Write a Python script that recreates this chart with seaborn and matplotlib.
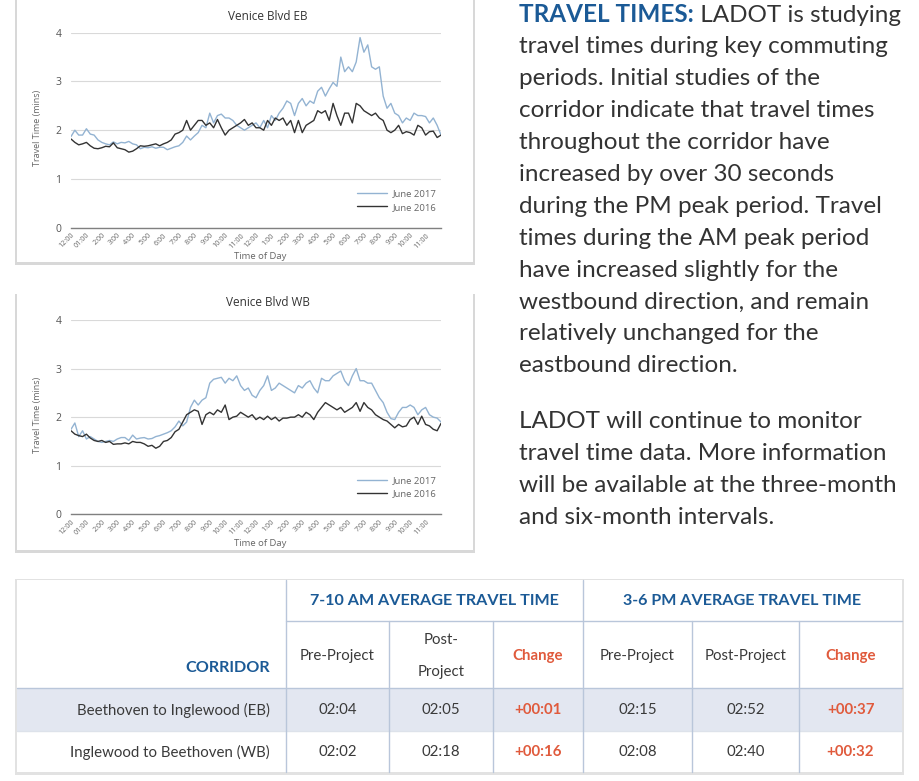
import numpy as np
import pandas as pd
import seaborn as sns
import matplotlib.pyplot as plt
from matplotlib.patches import Rectangle

# travel time samples, every 15 minutes from 12:00 AM to midnight
hours = np.arange(97) * 0.25

eb_2017 = [1.87, 2.0, 1.9, 1.9, 2.03, 1.92, 1.9, 1.8, 1.75, 1.72, 1.7, 1.76, 1.72, 1.75, 1.74, 1.77,
           1.72, 1.7, 1.62, 1.65, 1.64, 1.66, 1.63, 1.65, 1.65, 1.6, 1.63, 1.66, 1.68, 1.75, 1.88, 1.8,
           1.88, 1.95, 2.1, 2.05, 2.35, 2.15, 2.3, 2.33, 2.25, 2.25, 2.2, 2.1, 2.05, 2.0, 2.05, 2.1,
           2.15, 2.05, 2.2, 2.05, 2.3, 2.2, 2.35, 2.45, 2.6, 2.55, 2.3, 2.55, 2.65, 2.5, 2.6, 2.55,
           2.8, 2.88, 2.7, 2.85, 2.98, 2.9, 3.5, 3.2, 3.3, 3.2, 3.4, 3.9, 3.6, 3.75, 3.3, 3.25,
           3.3, 2.7, 2.45, 2.55, 2.35, 2.3, 2.15, 2.25, 2.2, 2.35, 2.3, 2.3, 2.28, 2.15, 2.25, 2.1,
           1.9]
eb_2016 = [1.82, 1.75, 1.7, 1.72, 1.75, 1.68, 1.63, 1.62, 1.64, 1.67, 1.66, 1.74, 1.64, 1.62, 1.6, 1.55,
           1.57, 1.62, 1.68, 1.67, 1.68, 1.7, 1.72, 1.68, 1.72, 1.75, 1.8, 1.92, 1.95, 2.0, 2.2, 2.0,
           2.1, 2.2, 2.2, 2.1, 2.15, 2.05, 2.22, 2.05, 1.9, 2.0, 2.05, 2.1, 2.15, 2.22, 2.1, 2.15,
           2.05, 2.05, 2.0, 2.2, 2.1, 2.25, 2.2, 2.25, 2.1, 2.2, 1.95, 2.2, 1.95, 2.1, 2.15, 2.2,
           2.4, 2.35, 2.4, 2.2, 2.55, 2.3, 2.1, 2.35, 2.35, 2.15, 2.55, 2.5, 2.4, 2.35, 2.3, 2.35,
           2.25, 2.2, 2.0, 1.95, 2.0, 2.1, 1.93, 1.97, 1.95, 1.9, 2.1, 2.05, 1.9, 1.97, 1.98, 1.85,
           1.9]
wb_2017 = [1.75, 1.88, 1.6, 1.72, 1.55, 1.6, 1.55, 1.5, 1.48, 1.5, 1.52, 1.5, 1.55, 1.58, 1.58, 1.52,
           1.63, 1.55, 1.57, 1.58, 1.55, 1.56, 1.6, 1.62, 1.65, 1.68, 1.72, 1.8, 1.92, 1.82, 1.9, 2.2,
           2.35, 2.25, 2.35, 2.4, 2.7, 2.78, 2.8, 2.82, 2.7, 2.8, 2.75, 2.85, 2.65, 2.55, 2.6, 2.45,
           2.4, 2.55, 2.65, 2.85, 2.55, 2.6, 2.7, 2.65, 2.6, 2.55, 2.5, 2.65, 2.6, 2.7, 2.75, 2.6,
           2.5, 2.8, 2.75, 2.75, 2.85, 2.9, 2.95, 2.75, 2.65, 2.85, 3.0, 2.75, 2.75, 2.7, 2.7, 2.55,
           2.4, 2.3, 2.1, 1.97, 1.95, 2.1, 2.2, 2.2, 2.25, 2.2, 2.05, 2.15, 2.2, 2.05, 2.0, 1.98,
           1.9]
wb_2016 = [1.72, 1.65, 1.62, 1.6, 1.65, 1.57, 1.52, 1.5, 1.52, 1.48, 1.5, 1.44, 1.45, 1.45, 1.47, 1.45,
           1.5, 1.48, 1.48, 1.45, 1.4, 1.42, 1.36, 1.4, 1.5, 1.52, 1.58, 1.7, 1.75, 1.9, 2.05, 2.1,
           2.15, 2.12, 1.85, 2.05, 2.1, 2.05, 2.15, 2.1, 2.25, 1.95, 2.0, 2.02, 2.1, 2.05, 2.0, 2.05,
           1.95, 2.0, 1.95, 2.02, 1.95, 2.0, 1.92, 1.98, 1.98, 2.0, 2.0, 2.05, 2.0, 2.1, 2.05, 1.95,
           2.1, 2.2, 2.3, 2.25, 2.2, 2.15, 2.2, 2.1, 2.15, 2.2, 2.3, 2.12, 2.3, 2.2, 2.15, 2.05,
           2.0, 1.95, 1.92, 1.85, 1.78, 1.85, 1.8, 1.82, 1.95, 2.0, 1.85, 2.02, 1.85, 1.82, 1.75, 1.72,
           1.87]

tick_labels = ["12:00", "01:00", "2:00", "3:00", "4:00", "5:00", "6:00", "7:00", "8:00", "9:00",
               "10:00", "11:00", "12:00", "1:00", "2:00", "3:00", "4:00", "5:00", "6:00", "7:00",
               "8:00", "9:00", "10:00", "11:00"]

para_head = "TRAVEL TIMES:"
para_lines = [" LADOT is studying",
              "travel times during key commuting",
              "periods. Initial studies of the",
              "corridor indicate that travel times",
              "throughout the corridor have",
              "increased by over 30 seconds",
              "during the PM peak period. Travel",
              "times during the AM peak period",
              "have increased slightly for the",
              "westbound direction, and remain",
              "relatively unchanged for the",
              "eastbound direction.",
              "",
              "LADOT will continue to monitor",
              "travel time data. More information",
              "will be available at the three-month",
              "and six-month intervals."]

groups = ["7-10 AM AVERAGE TRAVEL TIME", "3-6 PM AVERAGE TRAVEL TIME"]
subheads = ["Pre-Project", "Post-\nProject", "Change", "Pre-Project", "Post-Project", "Change"]
corridors = ["Beethoven to Inglewood (EB)", "Inglewood to Beethoven (WB)"]
am_pre = ["02:04", "02:02"]
am_post = ["02:05", "02:18"]
am_change = ["+00:01", "+00:16"]
pm_pre = ["02:15", "02:08"]
pm_post = ["02:52", "02:40"]
pm_change = ["+00:37", "+00:32"]

BLUE_LINE = "#93b3d2"
DARK_LINE = "#333333"
HEAD_BLUE = "#1b5a96"
RED = "#e05a3c"
GRAY = "#666666"

sns.set_theme(style="white")
plt.rcParams["font.family"] = ["Open Sans", "DejaVu Sans"]

W, H = 919, 781
fig = plt.figure(figsize=(W / 100, H / 100), dpi=100)

# background canvas in pixel coordinates for panels, paragraph and table
bg = fig.add_axes([0, 0, 1, 1], zorder=0)
bg.set_xlim(0, W)
bg.set_ylim(H, 0)
bg.axis("off")

for top, bottom in [(-5, 263), (292, 551)]:
    bg.add_patch(Rectangle((15, top + 2), 460, bottom - top, color="#d8d8d8", lw=0))
    bg.add_patch(Rectangle((17, top), 456, bottom - top - 1, color="white", lw=0))


def draw_chart(rect, s2017, s2016):
    ax = fig.add_axes(rect, zorder=2)
    ax.patch.set_alpha(0)
    df = pd.DataFrame({
        "hour": np.concatenate([hours, hours]),
        "time": list(s2017) + list(s2016),
        "series": ["June 2017"] * len(s2017) + ["June 2016"] * len(s2016),
    })
    sns.lineplot(data=df, x="hour", y="time", hue="series",
                 hue_order=["June 2017", "June 2016"],
                 palette={"June 2017": BLUE_LINE, "June 2016": DARK_LINE},
                 linewidth=1.0, ax=ax)
    ax.set_xlim(0, 24)
    ax.set_ylim(0, 4)
    ax.set_yticks([0, 1, 2, 3, 4])
    ax.yaxis.grid(True, color="#d9d9d9", lw=0.8)
    ax.xaxis.grid(False)
    for s in ["top", "right", "left"]:
        ax.spines[s].set_visible(False)
    ax.spines["bottom"].set_color("#808080")
    ax.spines["bottom"].set_linewidth(1.0)
    ax.set_xticks(range(24))
    ax.set_xticklabels(tick_labels, rotation=45, ha="right", rotation_mode="anchor",
                       fontsize=5.2, color=GRAY)
    ax.tick_params(axis="x", length=0, pad=3)
    ax.tick_params(axis="y", length=0, pad=7, labelsize=7.5, labelcolor="#555555")
    ax.set_ylabel("Travel Time (mins)", fontsize=6.5, color=GRAY)
    ax.yaxis.set_label_coords(-0.078, 0.51)
    ax.set_xlabel("Time of Day", fontsize=6.8, color=GRAY)
    ax.xaxis.set_label_coords(0.51, -0.125)
    ax.legend(loc="upper right", bbox_to_anchor=(1.01, 0.24), frameon=False,
              fontsize=6.8, handlelength=3.2, handletextpad=0.6, labelspacing=0.45,
              labelcolor=GRAY)
    return ax


draw_chart([71 / W, 1 - 227.7 / H, 370 / W, 195 / H], eb_2017, eb_2016)
draw_chart([71 / W, 1 - 514.3 / H, 370 / W, 194.3 / H], wb_2017, wb_2016)
bg.text(268, 17, "Venice Blvd EB", fontsize=8.5, color="#333333", ha="center", va="center")
bg.text(268, 303, "Venice Blvd WB", fontsize=8.5, color="#333333", ha="center", va="center")

# paragraph on the right
para_font = ["Lato", "DejaVu Sans"]
renderer = fig.canvas.get_renderer()
x0 = 519
head = bg.text(x0, 15, para_head, fontsize=17.5, fontweight="bold", color=HEAD_BLUE,
               ha="left", va="center", family=para_font)
ext = head.get_window_extent(renderer)
x_rest = x0 + (ext.x1 - ext.x0)
for i, line in enumerate(para_lines):
    if not line:
        continue
    y = 15 + i * 31.9 - (8 if i > 12 else 0)
    bg.text(x_rest if i == 0 else x0, y, line, fontsize=17.5, color="#333333",
            ha="left", va="center", family=para_font)

# table
tab_font = ["Lato", "DejaVu Sans"]
L, R = 17, 902
T, B = 580, 772
cols = [286, 389, 493, 583, 692, 799, 902]
h_mid, row1_top, row_mid = 621, 688, 731
LINE = "#b9c6da"

bg.add_patch(Rectangle((L - 2, T - 1), R - L + 4, B - T + 4, color="#e2e2e2", lw=0))
bg.add_patch(Rectangle((L, T), R - L, B - T, color="white", lw=0))
bg.add_patch(Rectangle((L, row1_top), R - L, row_mid - row1_top, color="#e3e7f1", lw=0))
bg.plot([cols[0], R], [h_mid, h_mid], color=LINE, lw=1)
bg.plot([L, R], [row1_top, row1_top], color=LINE, lw=1)
bg.plot([L, R], [row_mid, row_mid], color="#dde2ea", lw=1)
bg.plot([cols[0], cols[0]], [T, B], color=LINE, lw=1)
bg.plot([cols[3], cols[3]], [T, B], color=LINE, lw=1)
for c in [cols[1], cols[2], cols[4], cols[5]]:
    bg.plot([c, c], [h_mid, B], color=LINE, lw=1)

for g, (a, b) in zip(groups, [(cols[0], cols[3]), (cols[3], cols[6])]):
    bg.text((a + b) / 2, 601, g, fontsize=11.6, fontweight="bold", color=HEAD_BLUE,
            ha="center", va="center", family=tab_font)
bg.text(270, 668, "CORRIDOR", fontsize=11.6, fontweight="bold", color=HEAD_BLUE,
        ha="right", va="center", family=tab_font)

for k, sh in enumerate(subheads):
    cx = (cols[k] + cols[k + 1]) / 2
    is_change = sh == "Change"
    bg.text(cx, 656, sh, fontsize=10.8, ha="center", va="center", family=tab_font,
            color=RED if is_change else "#3a3a3a",
            fontweight="bold" if is_change else "normal", linespacing=2.6)

columns = [am_pre, am_post, am_change, pm_pre, pm_post, pm_change]
for r, name in enumerate(corridors):
    y = 710 + r * 42
    bg.text(270, y, name, fontsize=10.8, color="#3a3a3a", ha="right", va="center",
            family=tab_font)
    for k, col in enumerate(columns):
        cx = (cols[k] + cols[k + 1]) / 2
        is_change = k in (2, 5)
        bg.text(cx, y, col[r], fontsize=10.8, ha="center", va="center", family=tab_font,
                color=RED if is_change else "#3a3a3a",
                fontweight="bold" if is_change else "normal")

fig.savefig("out.png", dpi=100, facecolor="white")
